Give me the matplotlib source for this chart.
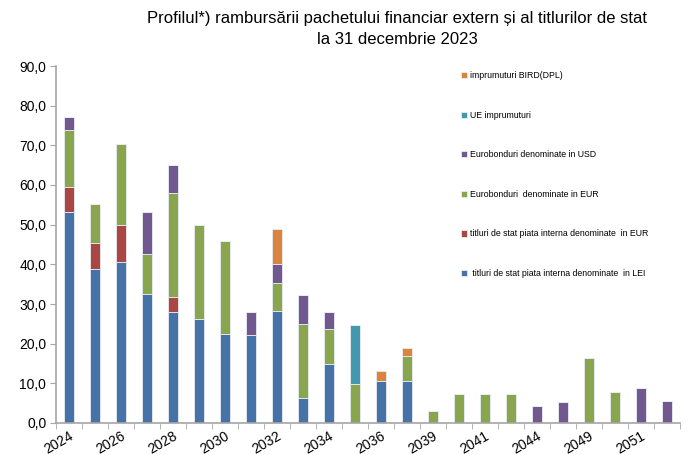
import matplotlib
matplotlib.use("Agg")
import matplotlib.pyplot as plt
import matplotlib.transforms as mtransforms
import numpy as np

plt.rcParams['font.family'] = ['Liberation Sans', 'DejaVu Sans']

years = ["2024", "2025", "2026", "2027", "2028", "2029", "2030", "2031", "2032",
         "2033", "2034", "2035", "2036", "2037", "2039", "2040", "2041", "2043",
         "2044", "2047", "2049", "2050", "2051", "2053"]

lei      = [53.3, 38.8, 40.7, 32.6, 28.1, 26.2, 22.4, 22.2, 28.2, 6.3, 14.9, 0, 10.5, 10.7, 0, 0, 0, 0, 0, 0, 0, 0, 0, 0]
eur_int  = [6.1, 6.5, 9.1, 0, 3.7, 0, 0, 0, 0, 0, 0, 0, 0, 0, 0, 0, 0, 0, 0, 0, 0, 0, 0, 0]
euro_eur = [14.4, 10.0, 20.6, 9.9, 26.1, 23.8, 23.6, 0, 7.0, 18.7, 8.8, 9.8, 0, 6.2, 2.9, 7.4, 7.4, 7.4, 0, 0, 16.5, 7.8, 0, 0]
euro_usd = [3.4, 0, 0, 10.6, 7.1, 0, 0, 5.9, 4.9, 7.2, 4.4, 0, 0, 0, 0, 0, 0, 0, 4.4, 5.3, 0, 0, 8.8, 5.5]
ue       = [0, 0, 0, 0, 0, 0, 0, 0, 0, 0, 0, 14.8, 0, 0, 0, 0, 0, 0, 0, 0, 0, 0, 0, 0]
bird     = [0, 0, 0, 0, 0, 0, 0, 0, 8.7, 0, 0, 0, 2.5, 2.0, 0, 0, 0, 0, 0, 0, 0, 0, 0, 0]

series = [
    (lei, "#4572A7", " titluri de stat piata interna denominate  in LEI"),
    (eur_int, "#AA4643", "titluri de stat piata interna denominate  in EUR"),
    (euro_eur, "#89A54E", "Eurobonduri  denominate in EUR"),
    (euro_usd, "#71588F", "Eurobonduri denominate in USD"),
    (ue, "#4198AF", "UE imprumuturi"),
    (bird, "#DB843D", "imprumuturi BIRD(DPL)"),
]

fig = plt.figure(figsize=(6.91, 4.55), dpi=100)
ax = fig.add_axes([56/691, 32/455, (680-56)/691, (423-66)/455])

x = np.arange(len(years))
bottom = np.zeros(len(years))
handles = []
for vals, col, lab in series:
    v = np.array(vals, dtype=float)
    b = ax.bar(x, v, width=0.42, bottom=bottom, color=col, edgecolor="#E8ECF4",
               linewidth=0.6, label=lab)
    handles.append(b)
    bottom += v

ax.set_xlim(-0.5, len(years) - 0.5)
ax.set_ylim(0, 90)
ax.set_yticks(np.arange(0, 91, 10))
ax.set_yticklabels([f"{v:.1f}".replace(".", ",") for v in np.arange(0, 91, 10)], fontsize=10)

ax.set_xticks(x[::2])
ax.set_xticklabels(years[::2], rotation=30, ha="right", rotation_mode="anchor", fontsize=10)
offset = mtransforms.ScaledTranslation(-8/100, -4/100, fig.dpi_scale_trans)
for lab in ax.get_xticklabels():
    lab.set_transform(lab.get_transform() + offset)
ax.tick_params(axis="x", which="major", length=0, pad=4)
ax.set_xticks(np.arange(-0.5, len(years), 1), minor=True)
ax.tick_params(axis="x", which="minor", length=4, color="#A6A6A6", direction="out")
ax.tick_params(axis="y", length=4, color="#A6A6A6", direction="out", pad=3)

for s in ["top", "right"]:
    ax.spines[s].set_visible(False)
for s in ["left", "bottom"]:
    ax.spines[s].set_color("#A6A6A6")
    ax.spines[s].set_linewidth(1.2)

fig.text(397/691, 1 - 18/455, "Profilul*) rambursării pachetului financiar extern și al titlurilor de stat",
         ha="center", va="center", fontsize=12)
fig.text(397/691, 1 - 40/455, "la 31 decembrie 2023", ha="center", va="center", fontsize=12)

leg = fig.legend(handles[::-1], [s[2] for s in series[::-1]], loc="upper left",
                 bbox_to_anchor=(461/691, 1 - 71/455), frameon=False, fontsize=6.3,
                 handlelength=0.7, handleheight=0.7, handletextpad=0.3,
                 labelspacing=3.5, borderaxespad=0, borderpad=0)

fig.savefig("out.png", dpi=100)
